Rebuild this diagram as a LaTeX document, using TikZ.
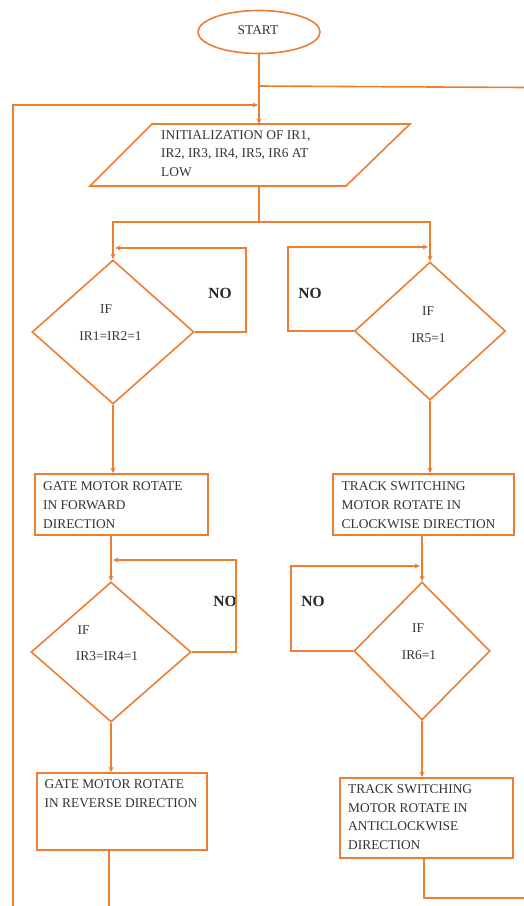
\documentclass[tikz,border=0pt]{standalone}
\usepackage{fontspec}
\setmainfont{Liberation Serif}
\usetikzlibrary{shapes.geometric,arrows.meta}
\definecolor{orng}{HTML}{ED7D31}
\definecolor{txtc}{HTML}{333333}
\begin{document}
\begin{tikzpicture}[x=1pt,y=-1pt,
  flow/.style={draw=orng,line width=1.6pt},
  arr/.style={flow,-{Stealth[length=5.5pt,width=5pt]}},
  shp/.style={draw=orng,line width=1.6pt,inner sep=0pt},
  dia/.style={shp,diamond},
  box/.style={shp,rectangle},
  txt/.style={font=\fontsize{13.4}{15}\selectfont,text=txtc,inner sep=0pt,anchor=base west},
  ctxt/.style={txt,anchor=base},
  nolab/.style={font=\bfseries\fontsize{15.5}{17}\selectfont,text=black!85,inner sep=0pt}]
\useasboundingbox (0,0) rectangle (524,906);

% START
\node[shp,ellipse,minimum width=122pt,minimum height=43pt] (start) at (259,32) {};
\node[ctxt] (starttxt) at (258,34.5) {START};

% initialization parallelogram
\coordinate (pa) at (152,124);
\coordinate (pb) at (410,124);
\coordinate (pc) at (346,186);
\coordinate (pd) at (90,186);
\draw[flow] (pa) -- (pb) -- (pc) -- (pd) -- cycle;
\coordinate (ptop) at (259,124);
\coordinate (pbot) at (259,186);
\node[txt] (init1) at (161,139.5) {INITIALIZATION OF IR1,};
\node[txt] (init2) at (161,157.5) {IR2, IR3, IR4, IR5, IR6 AT};
\node[txt] (init3) at (161,176.5) {LOW};

% decisions
\node[dia,minimum width=162pt,minimum height=144pt] (d1) at (113,332) {};
\node[ctxt] (d1a) at (106,313.5) {IF};
\node[ctxt] (d1b) at (110.5,340.5) {IR1=IR2=1};

\node[dia,minimum width=151pt,minimum height=138pt] (d2) at (430,331) {};
\node[ctxt] (d2a) at (428,315.5) {IF};
\node[ctxt] (d2b) at (428.5,342.5) {IR5=1};

\node[dia,minimum width=160pt,minimum height=140pt] (d3) at (111,652) {};
\node[ctxt] (d3a) at (83.5,634.5) {IF};
\node[ctxt] (d3b) at (107,660.5) {IR3=IR4=1};

\node[dia,minimum width=136pt,minimum height=138pt] (d4) at (422,651) {};
\node[ctxt] (d4a) at (418,632.5) {IF};
\node[ctxt] (d4b) at (419,659.5) {IR6=1};

% process boxes
\node[box,minimum width=173pt,minimum height=61pt] (b1) at (121.5,504.5) {};
\node[txt] (b1a) at (43,490.5) {GATE MOTOR ROTATE};
\node[txt] (b1b) at (43,509) {IN FORWARD};
\node[txt] (b1c) at (43,528) {DIRECTION};

\node[box,minimum width=181pt,minimum height=61pt] (b2) at (423.5,504.5) {};
\node[txt] (b2a) at (341.5,490.5) {TRACK SWITCHING};
\node[txt] (b2b) at (341.5,509) {MOTOR ROTATE IN};
\node[txt] (b2c) at (341.5,528) {CLOCKWISE DIRECTION};

\node[box,minimum width=170pt,minimum height=77pt] (b3) at (122,811.5) {};
\node[txt] (b3a) at (44.5,788) {GATE MOTOR ROTATE};
\node[txt] (b3b) at (44.5,807) {IN REVERSE DIRECTION};

\node[box,minimum width=173pt,minimum height=80pt] (b4) at (426.5,818) {};
\node[txt] (b4a) at (348,793) {TRACK SWITCHING};
\node[txt] (b4b) at (348,812) {MOTOR ROTATE IN};
\node[txt] (b4c) at (348,830.5) {ANTICLOCKWISE};
\node[txt] (b4d) at (348,849.5) {DIRECTION};

% NO labels
\node[nolab] (no1) at (220,293) {NO};
\node[nolab] (no2) at (310,293) {NO};
\node[nolab] (no3) at (225,601) {NO};
\node[nolab] (no4) at (313,601) {NO};

% connectors: top
\draw[arr] (start.south) -- (ptop);
\coordinate (j1) at (259,86);
\coordinate (rx) at (524,87.5);
\draw[flow] (j1) -- (rx);
\coordinate (lb) at (13,906);
\coordinate (lt) at (13,105);
\coordinate (lend) at (258,105);
\draw[arr] (lb) -- (lt) -- (lend);

% split
\coordinate (j2) at (259,222);
\coordinate (jl) at (113,222);
\coordinate (jr) at (430,222);
\draw[flow] (pbot) -- (j2);
\draw[arr] (j2) -- (jl) -- (d1.north);
\draw[arr] (j2) -- (jr) -- (d2.north);

% NO loops upper
\coordinate (n1a) at (246,332);
\coordinate (n1b) at (246,248);
\coordinate (n1c) at (115,248);
\draw[arr] (d1.east) -- (n1a) -- (n1b) -- (n1c);
\coordinate (n2a) at (288,331);
\coordinate (n2b) at (288,247);
\coordinate (n2c) at (428,247);
\draw[arr] (d2.west) -- (n2a) -- (n2b) -- (n2c);

% to boxes
\draw[arr] (d1.south) -- (d1.south |- b1.north);
\draw[arr] (d2.south) -- (d2.south |- b2.north);

% boxes to lower decisions
\draw[arr] (d3.north |- b1.south) -- (d3.north);
\draw[arr] (d4.north |- b2.south) -- (d4.north);

% NO loops lower
\coordinate (n3a) at (236,652);
\coordinate (n3b) at (236,560);
\coordinate (n3c) at (113,560);
\draw[arr] (d3.east) -- (n3a) -- (n3b) -- (n3c);
\coordinate (n4a) at (291,651);
\coordinate (n4b) at (291,566);
\coordinate (n4c) at (420,566);
\draw[arr] (d4.west) -- (n4a) -- (n4b) -- (n4c);

% to last boxes
\draw[arr] (d3.south) -- (d3.south |- b3.north);
\draw[arr] (d4.south) -- (d4.south |- b4.north);

% exits
\coordinate (e3) at (109,906);
\draw[flow] (e3 |- b3.south) -- (e3);
\coordinate (e4a) at (424,898);
\coordinate (e4b) at (524,898);
\draw[flow] (e4a |- b4.south) -- (e4a) -- (e4b);
\end{tikzpicture}
\end{document}
